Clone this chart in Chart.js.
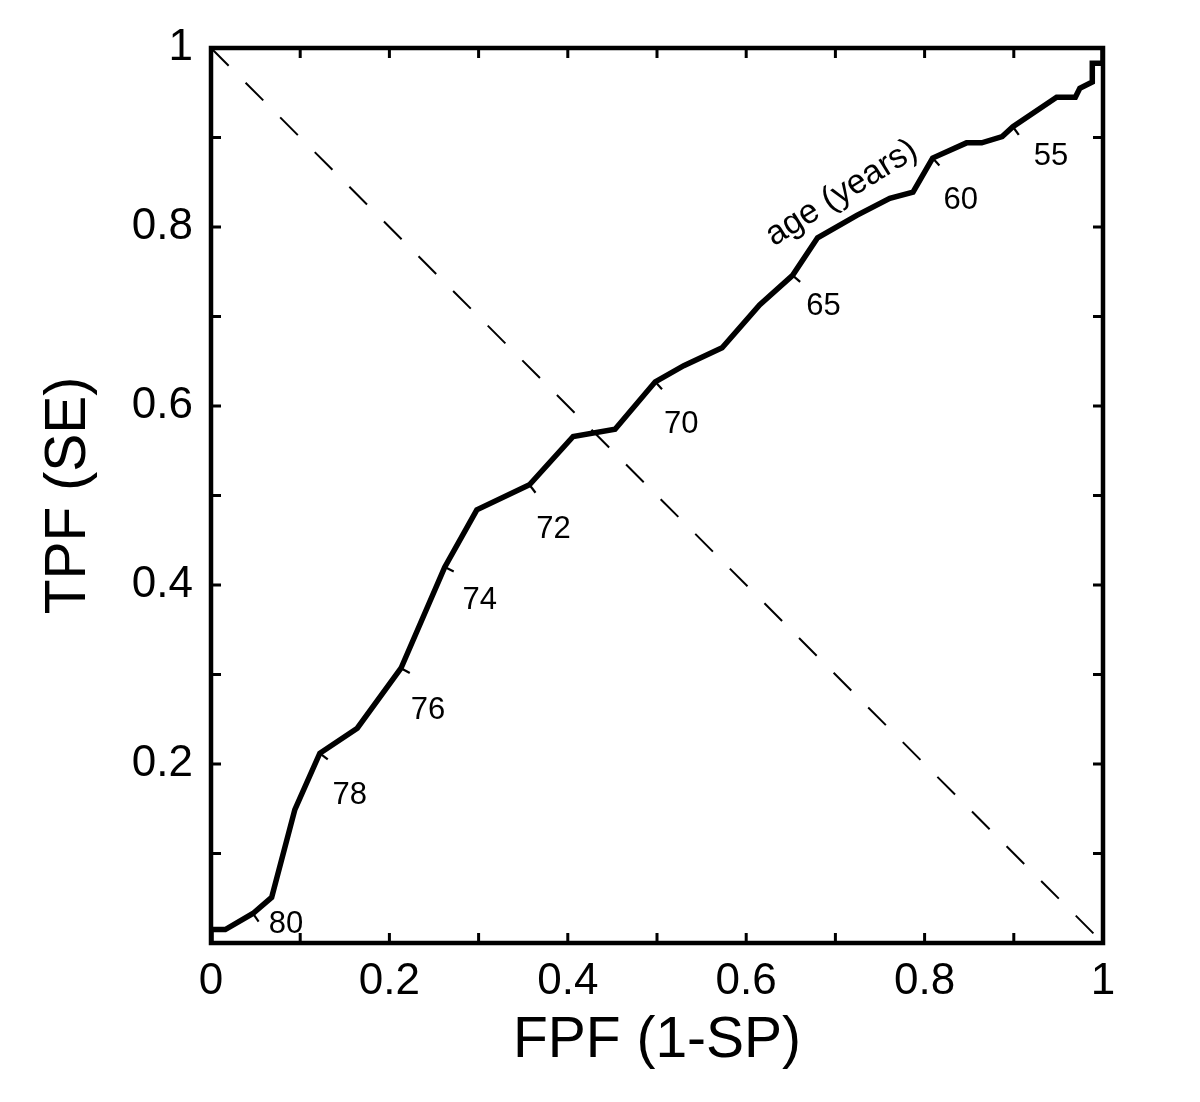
<!DOCTYPE html>
<html>
<head>
<meta charset="utf-8">
<title>ROC curve by age</title>
<script src="https://cdn.jsdelivr.net/npm/chart.js@4.4.1/dist/chart.umd.min.js"></script>
<style>
  html, body { margin: 0; padding: 0; background: #fff; }
  #wrap { width: 1200px; height: 1102px; }
</style>
</head>
<body>
<div id="wrap"><canvas id="roc"></canvas></div>
<script>
// ROC curve: false positive fraction vs true positive fraction
const fpf = [0, 0, 0.016, 0.047, 0.068, 0.094, 0.122, 0.164, 0.213, 0.262, 0.298, 0.357, 0.406, 0.453,
  0.498, 0.530, 0.573, 0.615, 0.652, 0.680, 0.724, 0.761, 0.787, 0.809, 0.847, 0.864, 0.887, 0.899,
  0.948, 0.969, 0.974, 0.988, 0.988, 1, 1];
const tpf = [0, 0.015, 0.015, 0.033, 0.051, 0.149, 0.212, 0.240, 0.307, 0.420, 0.484, 0.512, 0.566, 0.574,
  0.627, 0.645, 0.665, 0.713, 0.746, 0.788, 0.813, 0.832, 0.839, 0.877, 0.894, 0.894, 0.901, 0.912,
  0.945, 0.945, 0.955, 0.962, 0.983, 0.983, 1];

// age thresholds marked along the curve
const ages = ['80', '78', '76', '74', '72', '70', '65', '60', '55'];
const ageFpf = [0.047, 0.122, 0.213, 0.262, 0.357, 0.498, 0.652, 0.809, 0.899];

// chance line
const chanceX = [0, 1];
const chanceY = [1, 0];

const xTickLabels = ['0', '0.2', '0.4', '0.6', '0.8', '1'];
const yTickLabels = ['', '0.2', '0.4', '0.6', '0.8', '1'];

const FONT = 'Liberation Sans, Arial, Helvetica, sans-serif';

function tickLabel(list) {
  return v => {
    const k = Math.round(v * 10);
    return k % 2 === 0 ? list[k / 2] : '';
  };
}

// frame, inward ticks and the age marks
const rocDecor = {
  id: 'rocDecor',
  afterDatasetsDraw(chart) {
    const { ctx, chartArea: a, scales: { x, y } } = chart;
    ctx.save();
    ctx.strokeStyle = '#000';
    ctx.lineCap = 'butt';

    ctx.lineWidth = 3;
    ctx.beginPath();
    x.ticks.forEach(t => {
      const px = x.getPixelForValue(t.value);
      ctx.moveTo(px, a.bottom); ctx.lineTo(px, a.bottom - 10);
      ctx.moveTo(px, a.top); ctx.lineTo(px, a.top + 10);
    });
    y.ticks.forEach(t => {
      const py = y.getPixelForValue(t.value);
      ctx.moveTo(a.left, py); ctx.lineTo(a.left + 10, py);
      ctx.moveTo(a.right, py); ctx.lineTo(a.right - 10, py);
    });
    ctx.stroke();

    ctx.lineWidth = 4.5;
    ctx.strokeRect(a.left, a.top, a.right - a.left, a.bottom - a.top);

    // small ticks across the curve + age numbers
    const offsets = [[33, 11], [30, 42], [27, 42], [35, 33], [24, 45], [26, 43], [31, 31], [28, 42], [38, 30]];
    ctx.font = '31px ' + FONT;
    ctx.fillStyle = '#000';
    ctx.textAlign = 'center';
    ctx.textBaseline = 'middle';
    ctx.lineWidth = 2.2;
    ages.forEach((age, i) => {
      let j = 0, best = Infinity;
      fpf.forEach((v, k) => { if (Math.abs(v - ageFpf[i]) < best) { best = Math.abs(v - ageFpf[i]); j = k; } });
      const px = x.getPixelForValue(fpf[j]);
      const py = y.getPixelForValue(tpf[j]);
      const p0 = j > 0 ? j - 1 : j, p1 = j < fpf.length - 1 ? j + 1 : j;
      const dx = x.getPixelForValue(fpf[p1]) - x.getPixelForValue(fpf[p0]);
      const dy = y.getPixelForValue(tpf[p1]) - y.getPixelForValue(tpf[p0]);
      const len = Math.hypot(dx, dy) || 1;
      const nx = -dy / len, ny = dx / len;
      ctx.beginPath();
      ctx.moveTo(px, py);
      ctx.lineTo(px + nx * 10, py + ny * 10);
      ctx.stroke();
      ctx.fillText(age, px + offsets[i][0], py + offsets[i][1]);
    });

    // rotated caption along the curve
    ctx.save();
    ctx.font = '34px ' + FONT;
    ctx.translate(x.getPixelForValue(0.707), y.getPixelForValue(0.838));
    ctx.rotate(-32 * Math.PI / 180);
    ctx.fillText('age (years)', 0, 0);
    ctx.restore();

    ctx.restore();
  }
};

new Chart(document.getElementById('roc'), {
  type: 'scatter',
  data: {
    datasets: [
      {
        label: 'ROC',
        data: fpf.map((v, i) => ({ x: v, y: tpf[i] })),
        showLine: true,
        borderColor: '#000',
        borderWidth: 5.5,
        pointRadius: 0,
        tension: 0,
        borderJoinStyle: 'miter'
      },
      {
        label: 'chance',
        data: chanceX.map((v, i) => ({ x: v, y: chanceY[i] })),
        showLine: true,
        borderColor: '#000',
        borderWidth: 2,
        borderDash: [25, 24],
        pointRadius: 0
      }
    ]
  },
  options: {
    responsive: true,
    maintainAspectRatio: false,
    animation: false,
    layout: { padding: { left: 0, top: 48, right: 97, bottom: 0 } },
    plugins: {
      legend: { display: false },
      tooltip: { enabled: false }
    },
    scales: {
      x: {
        type: 'linear',
        min: 0,
        max: 1,
        afterFit: s => { s.height = 159; },
        grid: { display: false, drawTicks: false },
        border: { display: false },
        ticks: {
          stepSize: 0.1,
          autoSkip: false,
          maxRotation: 0,
          padding: 12,
          color: '#000',
          font: { family: FONT, size: 44 },
          callback: tickLabel(xTickLabels)
        },
        title: {
          display: true,
          text: 'FPF (1-SP)',
          color: '#000',
          font: { family: FONT, size: 57 },
          padding: { top: 0, bottom: 27 }
        }
      },
      y: {
        type: 'linear',
        min: 0,
        max: 1,
        afterFit: s => { s.width = 211; },
        grid: { display: false, drawTicks: false },
        border: { display: false },
        ticks: {
          stepSize: 0.1,
          autoSkip: false,
          padding: 18,
          color: '#000',
          font: { family: FONT, size: 44 },
          callback: tickLabel(yTickLabels)
        },
        title: {
          display: true,
          text: 'TPF (SE)',
          color: '#000',
          font: { family: FONT, size: 57 },
          padding: { top: 35, bottom: 0 }
        }
      }
    }
  },
  plugins: [rocDecor]
});
</script>
</body>
</html>
